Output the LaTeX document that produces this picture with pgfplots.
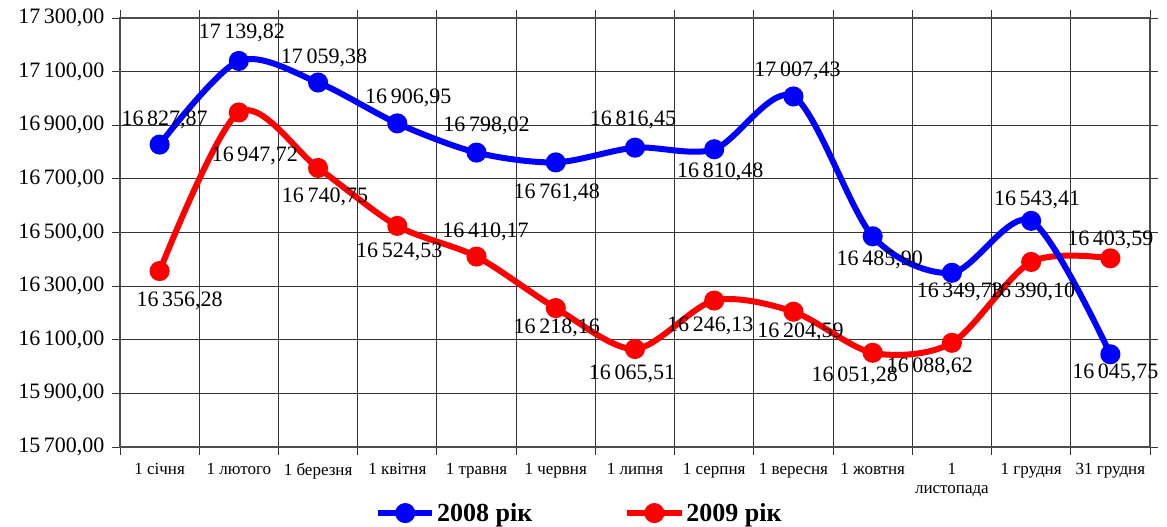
\documentclass[border=0pt]{standalone}
\usepackage{fontspec}
\setmainfont{Liberation Serif}
\usepackage{pgfplots}
\usepackage{pgfplotstable}
\pgfplotsset{compat=1.18}

% x: category index, y: value, dx/dy: label offset in pt
\pgfplotstableread{
x y dx dy
0 16827.87 5 25
1 17139.82 3 28
2 17059.38 6 25
3 16906.95 11 26
4 16798.02 10 27
5 16761.48 1 -30
6 16816.45 -2 28
7 16810.48 6 -23
8 17007.43 4 26
9 16485.90 7 -24
10 16349.73 8 -19
11 16543.41 6 21
12 16045.75 5 -19
}\tabA

\pgfplotstableread{
x y dx dy
0 16356.28 20 -30
1 16947.72 16 -43
2 16740.75 7 -29
3 16524.53 2 -26
4 16410.17 9 25
5 16218.16 1 -20
6 16065.51 -3 -25
7 16246.13 -4 -25
8 16204.59 7 -20
9 16051.28 -18 -23
10 16088.62 -22 -24
11 16390.10 1 -30
12 16403.59 0 18
}\tabB

\begin{document}
\begin{tikzpicture}
\path[use as bounding box] (0,0) rectangle (1167pt,527pt);
\begin{axis}[
  at={(120pt,80pt)}, anchor=south west,
  scale only axis,
  width=1030pt, height=429pt,
  xmin=-0.5, xmax=12.5,
  ymin=15700, ymax=17300,
  xtick={0,...,12},
  xticklabels={1 січня, 1 лютого, 1 березня, 1 квітня, 1 травня, 1 червня, 1 липня, 1 серпня, 1 вересня, 1 жовтня, {1\\листопада}, 1 грудня, 31 грудня},
  minor xtick={-0.5,0.5,...,12.5},
  major x tick style={draw=none},
  xminorgrids,
  ytick={15700,15900,...,17300},
  scaled y ticks=false,
  ymajorgrids,
  tick align=outside,
  major tick length=8pt,
  minor tick length=8pt,
  grid style={black!80, line width=0.9pt},
  minor grid style={black!80, line width=0.9pt},
  axis line style={black!70, line width=1.2pt},
  tick style={black!80, line width=0.9pt},
  x tick label style={font=\fontsize{17}{19}\selectfont, align=center, yshift=-5pt},
  y tick label style={font=\fontsize{22}{24}\selectfont, xshift=-4pt},
  /pgf/number format/assume math mode=true,
  yticklabel={\pgfmathprintnumber[fixed,fixed zerofill,precision=2,use comma,1000 sep={\,}]{\tick}},
  clip=false,
  nodes near coords={\pgfmathprintnumber[fixed,fixed zerofill,precision=2,use comma,1000 sep={\,}]{\pgfplotspointmeta}},
  visualization depends on={\thisrow{dx} \as \lblx},
  visualization depends on={\thisrow{dy} \as \lbly},
  every node near coord/.append style={anchor=center, inner sep=0pt, text=black,
    font=\fontsize{22}{24}\selectfont, xshift=\lblx, yshift=\lbly},
  legend columns=2,
  reverse legend,
  legend style={at={(0.446,-0.154)}, anchor=center, draw=none, fill=none,
    font=\fontsize{26}{28}\selectfont\bfseries,
    /tikz/every even column/.append style={column sep=90pt}},
  legend image code/.code={\draw[mark repeat=2,mark phase=2,#1] plot coordinates {(0pt,0pt) (27pt,0pt) (54pt,0pt)};},
]
\addplot[red, line width=6pt, smooth, tension=0.5, mark=*, mark size=7pt,
  mark options={solid, fill=red}] table[x=x, y=y] {\tabB};
\addlegendentry{2009 рік}
\addplot[blue, line width=6pt, smooth, tension=0.5, mark=*, mark size=7pt,
  mark options={solid, fill=blue}] table[x=x, y=y] {\tabA};
\addlegendentry{2008 рік}
\end{axis}
\end{tikzpicture}
\end{document}
